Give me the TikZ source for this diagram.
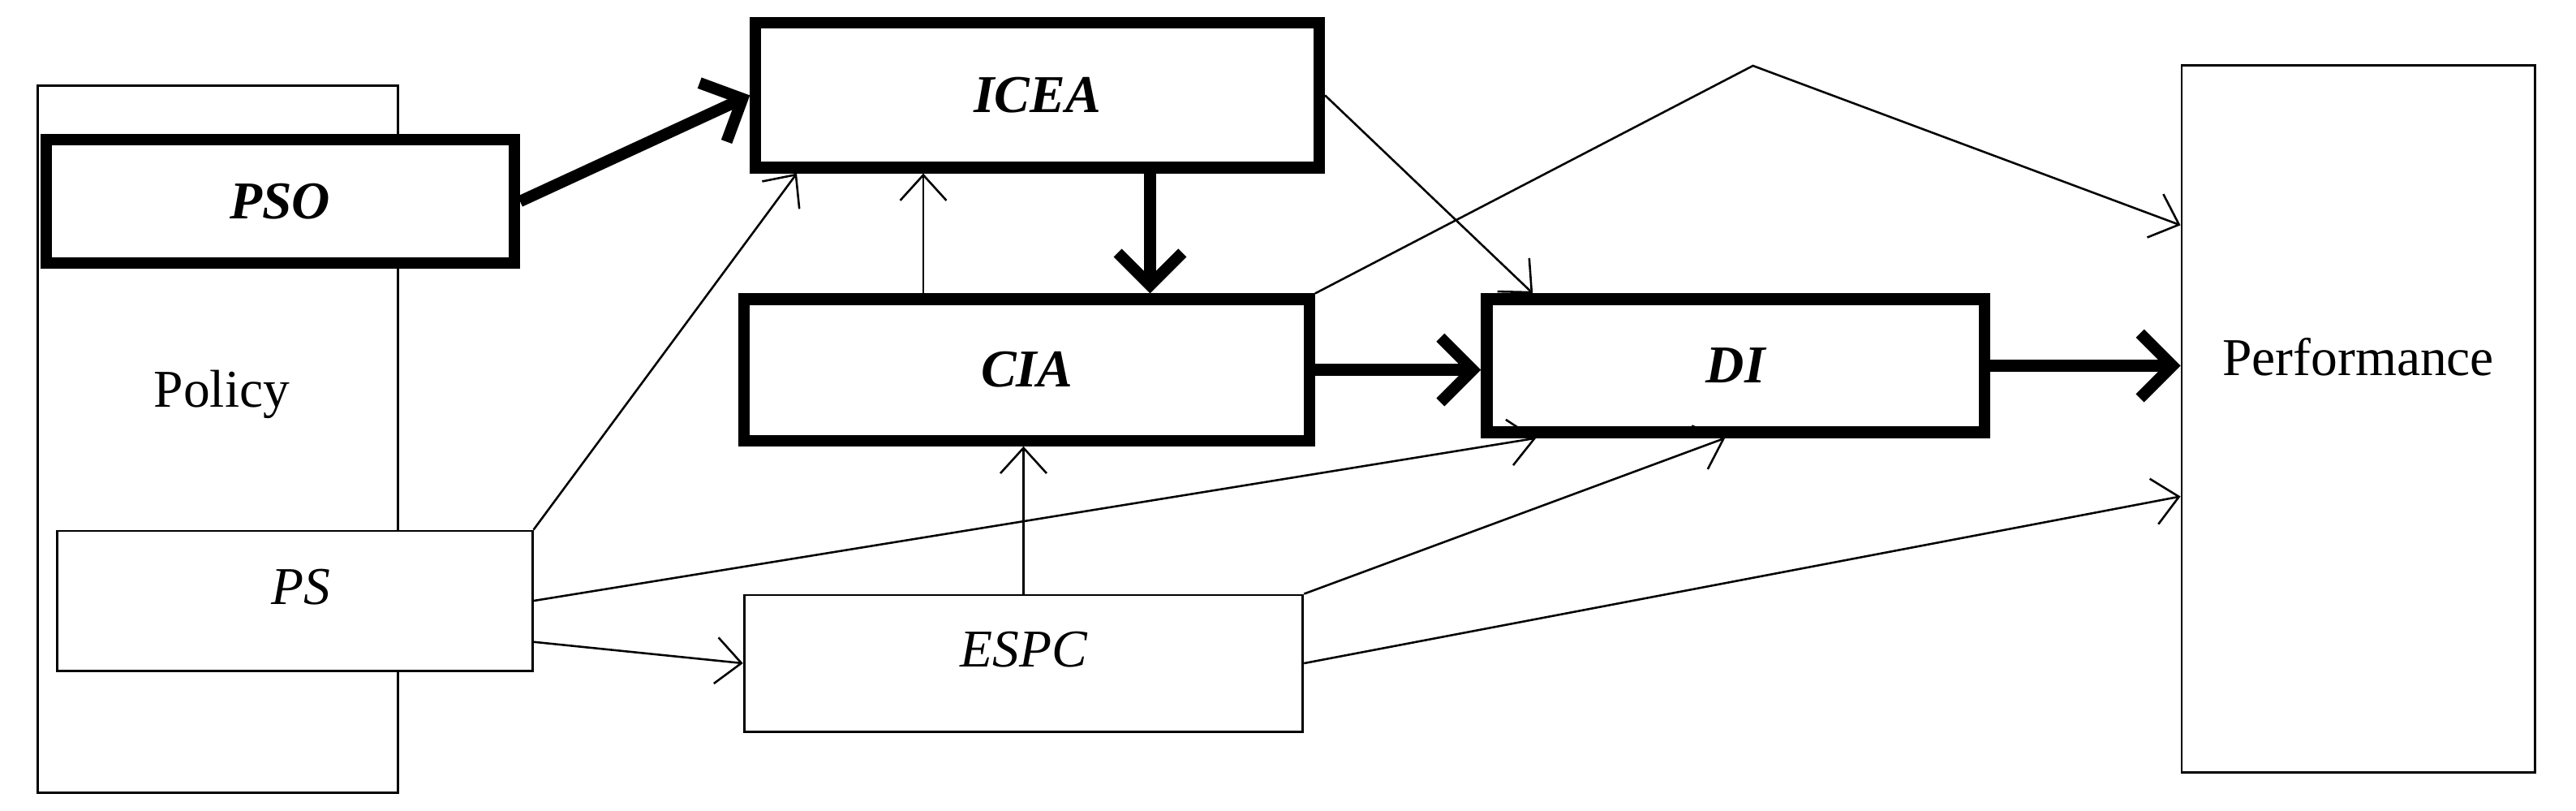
\documentclass[tikz,border=0pt]{standalone}
\usepackage{fontspec}
\setmainfont{Liberation Serif}
\usetikzlibrary{arrows.meta,calc}
\begin{document}
\begin{tikzpicture}[x=0.025cm,y=-0.025cm,
  box/.style={draw,line width=1pt,rectangle,inner sep=0pt},
  tbox/.style={draw,line width=5pt,rectangle,inner sep=0pt,font=\bfseries\itshape},
  thin/.style={line width=0.9pt,-{Straight Barb[length=11pt,width=20pt,line width=0.9pt]}},
  thick/.style={line width=5pt,-{Straight Barb[length=14pt,width=28pt,line width=5pt]}},
  every node/.style={font=\fontsize{23}{27}\selectfont}]
\useasboundingbox (0,0) rectangle (1568,493);
\node[box,minimum width=5.475cm,minimum height=10.75cm] (policy) at (132.5,267) {};
\node (policytext) at (135,240) {Policy};
\node[box,fill=white,minimum width=7.225cm,minimum height=2.125cm] (ps) at (179.5,365.5) {};
\node[font=\fontsize{23}{27}\selectfont\itshape] (pstext) at (183,357) {PS};
\node[tbox,fill=white,minimum width=7.125cm,minimum height=1.875cm,font=\fontsize{23}{27}\selectfont\bfseries\itshape] (pso) at (170.5,122.5) {PSO};
\node[tbox,minimum width=8.575cm,minimum height=2.2cm,font=\fontsize{23}{27}\selectfont\bfseries\itshape] (icea) at (631.5,58) {ICEA};
\node[tbox,minimum width=8.6cm,minimum height=2.15cm,font=\fontsize{23}{27}\selectfont\bfseries\itshape] (cia) at (625,225) {CIA};
\node[tbox,minimum width=7.575cm,minimum height=2.025cm,font=\fontsize{23}{27}\selectfont\bfseries\itshape] (di) at (1056.5,222.5) {DI};
\node[box,minimum width=5.375cm,minimum height=10.75cm] (perf) at (1435.5,255) {};
\node (perftext) at (1435.5,217) {Performance};
\node[box,minimum width=8.5cm,minimum height=2.075cm] (espc) at (623,403.5) {};
\node[font=\fontsize{23}{27}\selectfont\itshape] (espctext) at (623,395) {ESPC};
\coordinate (c1) at (700,0);
\coordinate (c2) at (562,0);
\coordinate (c3) at (485,0);
\coordinate (c4) at (933,0);
\coordinate (c5) at (935,0);
\coordinate (c6) at (1050,0);
\coordinate (peak) at (1067,40);
\coordinate (y137) at (0,137);
\coordinate (y302) at (0,302);
\draw[thick] (pso.east) -- (icea.west);
\draw[thick] (icea.south -| c1) -- (cia.north -| c1);
\draw[thick] (cia.east) -- (di.west |- cia.east);
\draw[thick] (di.east) -- (perf.west |- di.east);
\draw[thin] (cia.north -| c2) -- (icea.south -| c2);
\draw[thin] (ps.north east) -- (icea.south -| c3);
\draw[thin] (icea.east) -- (di.north -| c4);
\draw[thin] (cia.north east) -- (peak) -- (perf.west |- y137);
\draw[thin] (ps.east) -- (di.south -| c5);
\draw[thin] ($(ps.east)+(0,25)$) -- (espc.west);
\draw[thin] (espc.north) -- (espc.north |- cia.south);
\draw[thin] (espc.north east) -- (di.south -| c6);
\draw[thin] (espc.east) -- (perf.west |- y302);
\end{tikzpicture}
\end{document}
